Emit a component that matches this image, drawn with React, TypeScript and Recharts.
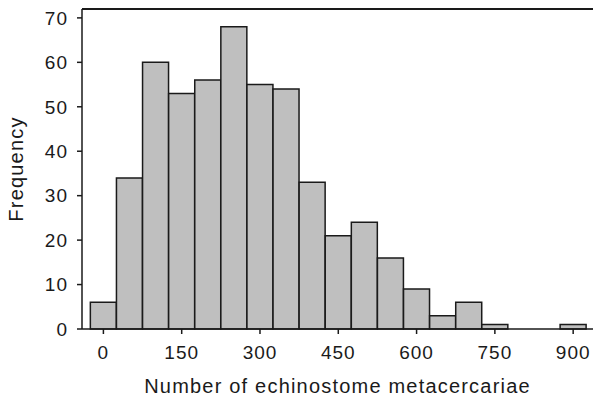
import React from 'react';
import { BarChart, Bar, XAxis, YAxis, ReferenceLine } from 'recharts';

// bin centres (width 50) and counts
const binCentres = [0, 50, 100, 150, 200, 250, 300, 350, 400, 450, 500, 550, 600, 650, 700, 750, 800, 850, 900];
const counts = [6, 34, 60, 53, 56, 68, 55, 54, 33, 21, 24, 16, 9, 3, 6, 1, 0, 0, 1];
const xTicks = [0, 150, 300, 450, 600, 750, 900];
const yTicks = [0, 10, 20, 30, 40, 50, 60, 70];

const data = binCentres.map((x, i) => ({ x, count: counts[i] }));

const ink = '#1a1a1a';
const font = '"Liberation Sans", Arial, sans-serif';
const tickStyle = { fill: ink, fontSize: 19, fontFamily: font, letterSpacing: 1 };

const App: React.FC = () => {
  return (
    <div style={{ position: 'absolute', left: 0, top: 0, width: 593, height: 399, background: '#fff' }}>
      <BarChart
        width={593}
        height={399}
        data={data}
        margin={{ top: 9, right: 0, left: 0, bottom: 0 }}
        barCategoryGap={0}
        barGap={0}
      >
        <XAxis
          dataKey="x"
          type="number"
          domain={[-41, 938]}
          ticks={xTicks}
          height={70}
          tickSize={5}
          tickMargin={12}
          stroke={ink}
          strokeWidth={1.5}
          tick={tickStyle}
          label={{
            value: 'Number of echinostome metacercariae',
            position: 'insideBottom',
            offset: 6,
            style: { fill: ink, fontSize: 20, fontFamily: font, letterSpacing: 1.2 },
          }}
        />
        <YAxis
          type="number"
          domain={[0, 72]}
          ticks={yTicks}
          width={82}
          tickSize={5}
          tickMargin={9}
          stroke={ink}
          strokeWidth={1.5}
          tick={tickStyle}
          label={{
            value: 'Frequency',
            angle: -90,
            position: 'insideLeft',
            offset: 16,
            style: { fill: ink, fontSize: 20, fontFamily: font, letterSpacing: 1.2, textAnchor: 'middle' },
          }}
        />
        <ReferenceLine y={72} stroke={ink} strokeWidth={2} ifOverflow="extendDomain" />
        <Bar dataKey="count" fill="#bfbfbf" stroke={ink} strokeWidth={1.5} isAnimationActive={false} />
      </BarChart>
    </div>
  );
};

export default App;
